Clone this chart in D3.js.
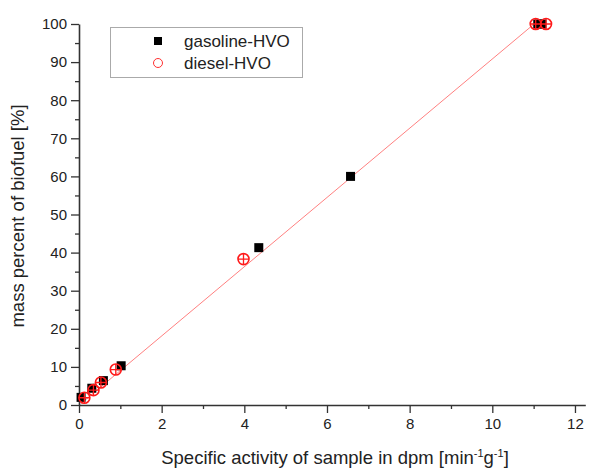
<!DOCTYPE html>
<html>
<head>
<meta charset="utf-8">
<script src="https://cdn.jsdelivr.net/npm/d3@7"></script>
<style>
  body { margin: 0; background: #fff; }
  text { font-family: "Liberation Sans", Arial, sans-serif; fill: #222; }
</style>
</head>
<body>
<script>
// data
var gasX = [0.05, 0.31, 0.59, 1.02, 4.35, 6.57, 11.1, 11.2];
var gasY = [2.0, 4.4, 6.4, 10.3, 41.3, 60.0, 100, 100];
var dieX = [0.13, 0.35, 0.53, 0.89, 3.98, 11.05, 11.3];
var dieY = [1.9, 3.9, 5.9, 9.3, 38.3, 100, 100];
var fitX = [0.05, 11.0];
var fitY = [0.4, 99.9];
var xTicks = [0, 2, 4, 6, 8, 10, 12];
var yTicks = [0, 10, 20, 30, 40, 50, 60, 70, 80, 90, 100];
var legendNames = ["gasoline-HVO", "diesel-HVO"];

var width = 589, height = 468;

var svg = d3.select("body").append("svg")
    .attr("width", width)
    .attr("height", height);

var x = d3.scaleLinear().domain([0, 12.25]).range([79, 585.3]);
var y = d3.scaleLinear().domain([0, 100]).range([405, 24]);

//minor ticks first, short
svg.append("g")
    .attr("transform", "translate(0,405)")
    .call(d3.axisBottom(x).tickValues([1, 3, 5, 7, 9, 11]).tickSize(4).tickFormat(""))
    .call(function (g) { g.select(".domain").remove(); });
svg.append("g")
    .attr("transform", "translate(79,0)")
    .call(d3.axisLeft(y).tickValues(d3.range(5, 100, 10)).tickSize(4).tickFormat(""))
    .call(function (g) { g.select(".domain").remove(); });

//major axes
var xAxis = svg.append("g")
    .attr("transform", "translate(0,405)")
    .call(d3.axisBottom(x).tickValues(xTicks).tickSize(8).tickSizeOuter(0).tickPadding(5));
var yAxis = svg.append("g")
    .attr("transform", "translate(79,0)")
    .call(d3.axisLeft(y).tickValues(yTicks).tickSize(8).tickSizeOuter(0).tickPadding(4));

svg.selectAll(".tick line").attr("stroke", "#333").attr("stroke-width", 1.3);
svg.selectAll(".domain").attr("stroke", "#333").attr("stroke-width", 1.6);
svg.selectAll(".tick text").style("font-size", "15px").attr("fill", "#222");

//axis titles
svg.append("text")
    .attr("x", 335)
    .attr("y", 464)
    .attr("text-anchor", "middle")
    .style("font-size", "18.5px")
    .html('Specific activity of sample in dpm [min<tspan dy="-7" font-size="11px">-1</tspan><tspan dy="7">g</tspan><tspan dy="-7" font-size="11px">-1</tspan><tspan dy="7">]</tspan>');

svg.append("text")
    .attr("transform", "translate(24,216) rotate(-90)")
    .attr("text-anchor", "middle")
    .style("font-size", "18.5px")
    .text("mass percent of biofuel [%]");

//fit line
svg.append("line")
    .attr("x1", x(fitX[0])).attr("y1", y(fitY[0]))
    .attr("x2", x(fitX[1])).attr("y2", y(fitY[1]))
    .attr("stroke", "#ff8080")
    .attr("stroke-width", 1);

//gasoline squares
svg.selectAll(".gas")
    .data(gasX)
    .enter()
    .append("rect")
    .attr("class", "gas")
    .attr("x", function (d) { return x(d) - 4.5; })
    .attr("y", function (d, i) { return y(gasY[i]) - 4.5; })
    .attr("width", 9)
    .attr("height", 9)
    .attr("fill", "#000");

//diesel circles with cross
var die = svg.selectAll(".die")
    .data(dieX)
    .enter()
    .append("g")
    .attr("class", "die")
    .attr("transform", function (d, i) { return "translate(" + x(d) + "," + y(dieY[i]) + ")"; });
die.append("circle")
    .attr("r", 5.5)
    .attr("fill", "none")
    .attr("stroke", "#ff1a1a")
    .attr("stroke-width", 1.6);
die.append("path")
    .attr("d", "M-5.5,0H5.5M0,-5.5V5.5")
    .attr("stroke", "#ff1a1a")
    .attr("stroke-width", 1.3);

//legend
var legend = svg.append("g");
legend.append("rect")
    .attr("x", 110.5).attr("y", 27.5)
    .attr("width", 192).attr("height", 50)
    .attr("fill", "#fff")
    .attr("stroke", "#aaa")
    .attr("stroke-width", 1);
legend.append("rect")
    .attr("x", 154).attr("y", 37)
    .attr("width", 8).attr("height", 8)
    .attr("fill", "#000");
legend.append("circle")
    .attr("cx", 158).attr("cy", 63)
    .attr("r", 4.5)
    .attr("fill", "none")
    .attr("stroke", "#ff3030")
    .attr("stroke-width", 1);
legend.selectAll(".lab")
    .data(legendNames)
    .enter()
    .append("text")
    .attr("x", 184)
    .attr("y", function (d, i) { return 47 + i * 22; })
    .style("font-size", "17px")
    .text(function (d) { return d; });
</script>
</body>
</html>
